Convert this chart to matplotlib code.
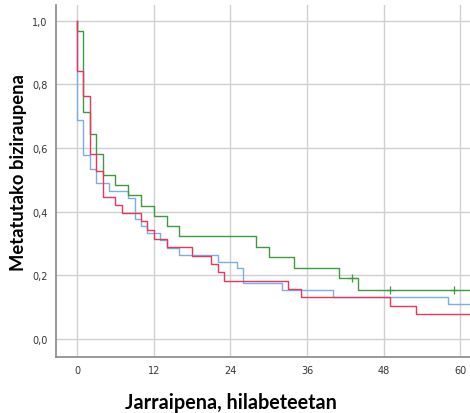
import matplotlib.pyplot as plt

# Kaplan-Meier steps (months, survival)
green_t = [0, 0, 1, 2, 3, 4, 6, 8, 10, 12, 14, 16, 28, 30, 34, 41, 44, 62]
green_s = [1, 0.969, 0.713, 0.645, 0.582, 0.516, 0.484, 0.451, 0.419, 0.386,
           0.354, 0.322, 0.290, 0.257, 0.224, 0.192, 0.154, 0.154]
green_cens_t = [43, 49, 59]
green_cens_s = [0.192, 0.154, 0.154]

blue_t = [0, 0, 1, 2, 3, 5, 8, 9, 10, 11, 13, 14, 16, 22, 25, 26, 32, 40, 58, 62]
blue_s = [1, 0.689, 0.579, 0.535, 0.490, 0.466, 0.443, 0.377, 0.356, 0.333,
          0.312, 0.286, 0.265, 0.243, 0.223, 0.176, 0.155, 0.131, 0.110, 0.110]

red_t = [0, 0, 1, 2, 3, 4, 6, 7, 10, 11, 12, 14, 18, 21, 22, 23, 33, 35, 49, 53, 62]
red_s = [1, 0.844, 0.765, 0.582, 0.527, 0.445, 0.421, 0.395, 0.370, 0.343,
         0.314, 0.288, 0.262, 0.236, 0.210, 0.183, 0.157, 0.131, 0.104, 0.078, 0.078]

x_ticks = [0, 12, 24, 36, 48, 60]
y_ticks = [0.0, 0.2, 0.4, 0.6, 0.8, 1.0]
y_labels = ['0,0', '0,2', '0,4', '0,6', '0,8', '1,0']

fig = plt.figure(figsize=(4.7, 4.14), dpi=100)
ax = fig.add_axes([56/470, 56/414, 414/470, 352/414])

ax.step(blue_t, blue_s, where='post', color='#7aaee8', lw=1.0)
ax.step(green_t, green_s, where='post', color='#3f9a3f', lw=1.0)
ax.step(red_t, red_s, where='post', color='#e8365c', lw=1.0)
ax.plot(green_cens_t, green_cens_s, '+', color='#3f9a3f', ms=6, mew=0.9)

ax.set_xlim(-3.3, 61.5)
ax.set_ylim(-0.057, 1.05)
ax.set_xticks(x_ticks)
ax.set_yticks(y_ticks)
ax.set_yticklabels(y_labels)
ax.tick_params(length=0, labelsize=7, colors='#333333', pad=6)
for lab in ax.get_xticklabels() + ax.get_yticklabels():
    lab.set_family(['Liberation Sans Narrow', 'DejaVu Sans'])
ax.grid(True, color='#d0d0d0', lw=1)
ax.set_axisbelow(True)
for side in ['top', 'right']:
    ax.spines[side].set_visible(False)
for side in ['left', 'bottom']:
    ax.spines[side].set_color('#888888')
    ax.spines[side].set_linewidth(1.2)

fig.text(231/470, 1 - 409/414, 'Jarraipena, hilabeteetan', ha='center', va='baseline',
         fontsize=14.2, fontweight='bold', family=['Lato', 'DejaVu Sans'])
fig.text(19/470, 1 - 173/414, 'Metatutako biziraupena', ha='center', va='center',
         rotation=90, fontsize=13.2, fontweight='bold', family=['Lato', 'DejaVu Sans'])

fig.savefig('out.png', dpi=100)
